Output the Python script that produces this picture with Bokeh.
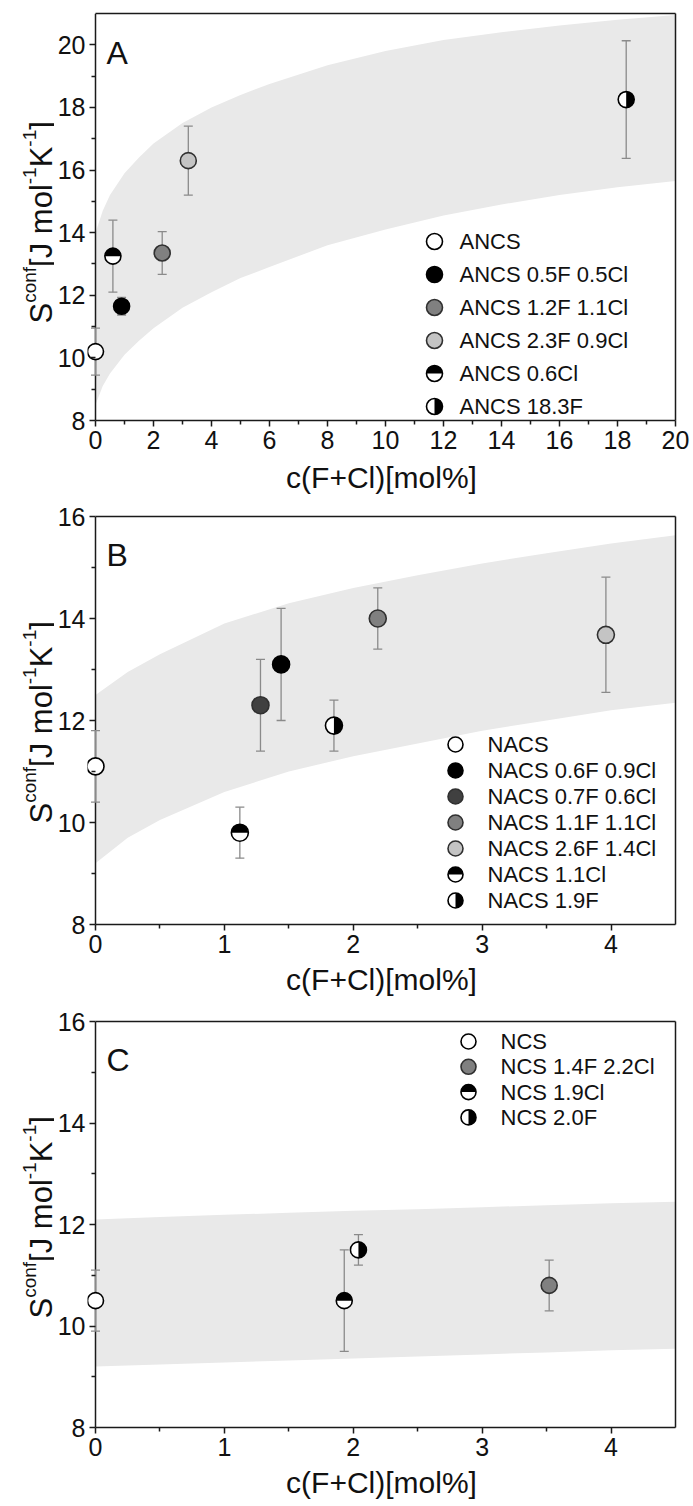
import math
from bokeh.plotting import figure
from bokeh.layouts import column, row
from bokeh.models import Label, FixedTicker, LinearAxis
from bokeh.embed import file_html
from bokeh.resources import INLINE

FONT = "Liberation Sans"

# ---------------- Panel A data ----------------
A_names = ["ANCS", "ANCS 0.5F 0.5Cl", "ANCS 1.2F 1.1Cl", "ANCS 2.3F 0.9Cl", "ANCS 0.6Cl", "ANCS 18.3F"]
A_kind = ["fill", "fill", "fill", "fill", "halfCl", "halfF"]
A_fill = ["#ffffff", "#000000", "#808080", "#c4c4c4", "", ""]
A_x = [0.0, 0.9, 2.3, 3.2, 0.6, 18.3]
A_y = [10.2, 11.65, 13.35, 16.3, 13.25, 18.25]
A_err = [0.75, 0.28, 0.68, 1.1, 1.15, 1.88]
A_band_x = [0, 0.25, 0.5, 1, 1.5, 2, 3, 4, 5, 6, 8, 10, 12, 14, 16, 18, 20]
A_band_hi = [14.0, 14.7, 15.2, 15.9, 16.4, 16.85, 17.5, 18.0, 18.4, 18.75, 19.35, 19.8, 20.15, 20.4, 20.62, 20.8, 20.95]
A_band_lo = [8.5, 9.1, 9.5, 10.1, 10.55, 10.95, 11.6, 12.1, 12.55, 12.9, 13.6, 14.1, 14.55, 14.9, 15.2, 15.45, 15.65]
A_xticks = [0, 2, 4, 6, 8, 10, 12, 14, 16, 18, 20]
A_xminor = [1, 3, 5, 7, 9, 11, 13, 15, 17, 19]
A_yticks = [8, 10, 12, 14, 16, 18, 20]
A_yminor = [9, 11, 13, 15, 17, 19]

# ---------------- Panel B data ----------------
B_names = ["NACS", "NACS 0.6F 0.9Cl", "NACS 0.7F 0.6Cl", "NACS 1.1F 1.1Cl", "NACS 2.6F 1.4Cl", "NACS 1.1Cl", "NACS 1.9F"]
B_kind = ["fill", "fill", "fill", "fill", "fill", "halfCl", "halfF"]
B_fill = ["#ffffff", "#000000", "#404040", "#808080", "#c4c4c4", "", ""]
B_x = [0.0, 1.44, 1.28, 2.19, 3.96, 1.12, 1.85]
B_y = [11.1, 13.1, 12.3, 14.0, 13.68, 9.8, 11.9]
B_err = [0.7, 1.1, 0.9, 0.6, 1.13, 0.5, 0.5]
B_band_x = [0, 0.25, 0.5, 1, 1.5, 2, 2.5, 3, 3.5, 4, 4.5]
B_band_hi = [12.5, 12.95, 13.3, 13.9, 14.3, 14.6, 14.85, 15.08, 15.28, 15.47, 15.63]
B_band_lo = [9.2, 9.7, 10.05, 10.6, 11.0, 11.3, 11.55, 11.8, 12.0, 12.2, 12.35]
B_xticks = [0, 1, 2, 3, 4]
B_xminor = [0.5, 1.5, 2.5, 3.5]
B_yticks = [8, 10, 12, 14, 16]
B_yminor = [9, 11, 13, 15]

# ---------------- Panel C data ----------------
C_names = ["NCS", "NCS 1.4F 2.2Cl", "NCS 1.9Cl", "NCS 2.0F"]
C_kind = ["fill", "fill", "halfCl", "halfF"]
C_fill = ["#ffffff", "#808080", "", ""]
C_x = [0.0, 3.52, 1.93, 2.04]
C_y = [10.5, 10.8, 10.5, 11.5]
C_err = [0.6, 0.5, 1.0, 0.3]
C_band_x = [0, 0.5, 1, 1.5, 2, 2.5, 3, 3.5, 4, 4.5]
C_band_hi = [12.1, 12.15, 12.19, 12.23, 12.27, 12.3, 12.34, 12.38, 12.42, 12.45]
C_band_lo = [9.2, 9.24, 9.28, 9.32, 9.36, 9.4, 9.44, 9.48, 9.52, 9.55]
C_xticks = [0, 1, 2, 3, 4]
C_xminor = [0.5, 1.5, 2.5, 3.5]
C_yticks = [8, 10, 12, 14, 16]
C_yminor = [9, 11, 13, 15]

X_TITLE = "c(F+Cl)[mol%]"

PLOT_W = 580      # px from x=0 to x=max
PAD = 8           # px of frame left of x=0 (so markers at x=0 are not clipped)
FRAME_W = PLOT_W + PAD
YLAB_W = 54
BAND_COLOR = "#e9e9e9"
ERR_COLOR = "#8a8a8a"
AX_COLOR = "#1a1a1a"
TXT = "#111111"


def draw_marker(p, x, y, kind, fill, size):
    if kind == "fill":
        outline = "#000000" if fill in ("#ffffff", "#000000") else "#303030"
        p.scatter([x], [y], size=size, fill_color=fill, line_color=outline, line_width=1.6)
    else:
        p.scatter([x], [y], size=size, fill_color="#ffffff", line_color=None)
        if kind == "halfCl":
            a0, a1 = 0.0, math.pi
        else:
            a0, a1 = -math.pi / 2, math.pi / 2
        p.wedge(x=[x], y=[y], radius=size / 2.0, radius_units="screen",
                start_angle=a0, end_angle=a1, fill_color="#000000", line_color=None)
        p.scatter([x], [y], size=size, fill_color=None, line_color="#000000", line_width=1.6)


def style_axis(ax):
    ax.axis_line_width = 1.5
    ax.axis_line_color = AX_COLOR
    ax.major_tick_line_width = 1.5
    ax.major_tick_line_color = AX_COLOR
    ax.minor_tick_line_width = 1.5
    ax.minor_tick_line_color = AX_COLOR
    ax.major_tick_out = 6
    ax.major_tick_in = 0
    ax.minor_tick_out = 4
    ax.minor_tick_in = 0
    ax.major_label_text_font = FONT
    ax.major_label_text_font_size = "25px"
    ax.major_label_text_color = TXT
    ax.major_label_standoff = 4


def make_panel(letter, xmax, yr, fh, top, bottom, xt, xm, yt, ym,
               bx, blo, bhi, names, kinds, fills, xs, ys, errs, msize,
               leg, ylab_y0, letter_dy, title_standoff):
    x0 = -PAD / PLOT_W * xmax
    xr = (x0, xmax)
    p = figure(x_range=xr, y_range=yr, frame_width=FRAME_W, frame_height=fh,
               min_border_left=86 - YLAB_W, min_border_right=15, min_border_top=top,
               min_border_bottom=bottom, output_backend="svg", toolbar_location=None)
    p.background_fill_color = "white"
    p.border_fill_color = "white"
    p.xgrid.visible = False
    p.ygrid.visible = False
    p.outline_line_color = None

    xa = p.xaxis[0]
    ya = p.yaxis[0]
    xa.ticker = FixedTicker(ticks=xt, minor_ticks=xm)
    ya.ticker = FixedTicker(ticks=yt, minor_ticks=ym)
    xa.bounds = (0, xmax)
    style_axis(xa)
    style_axis(ya)
    # y axis sits at the frame edge; its ticks are shifted inward so they end at x=0
    ya.axis_line_color = None
    ya.major_tick_out = -2
    ya.major_tick_in = PAD
    ya.minor_tick_out = -4
    ya.minor_tick_in = PAD
    ya.major_label_standoff = 4
    xa.axis_label = X_TITLE
    xa.axis_label_text_font = FONT
    xa.axis_label_text_font_size = "30px"
    xa.axis_label_text_font_style = "normal"
    xa.axis_label_text_color = TXT
    xa.axis_label_standoff = title_standoff

    # frame box: top and right lines
    top_ax = LinearAxis(ticker=FixedTicker(ticks=[]), bounds=(0, xmax))
    right_ax = LinearAxis(ticker=FixedTicker(ticks=[]))
    for ax in (top_ax, right_ax):
        ax.axis_line_width = 1.5
        ax.axis_line_color = AX_COLOR
        ax.major_tick_line_color = None
        ax.minor_tick_line_color = None
        ax.major_label_text_font_size = "0px"
        ax.major_label_standoff = 0
    p.add_layout(top_ax, "above")
    p.add_layout(right_ax, "right")

    # shaded band
    p.varea(x=bx, y1=blo, y2=bhi, fill_color=BAND_COLOR)

    # y axis line at x = 0
    p.segment(x0=[0], y0=[yr[0]], x1=[0], y1=[yr[1]], line_color=AX_COLOR, line_width=1.5)

    # error bars
    lo = [y - e for y, e in zip(ys, errs)]
    hi = [y + e for y, e in zip(ys, errs)]
    p.segment(x0=xs, y0=lo, x1=xs, y1=hi, line_color=ERR_COLOR, line_width=1.3)
    p.scatter(xs, hi, marker="dash", size=9, line_color=ERR_COLOR, line_width=1.3)
    p.scatter(xs, lo, marker="dash", size=9, line_color=ERR_COLOR, line_width=1.3)

    # markers
    for x, y, k, f in zip(xs, ys, kinds, fills):
        draw_marker(p, x, y, k, f, msize)

    # legend (manual, to support half-filled markers)
    fx_m, fx_t, fy0, step, lsize = leg
    for i, (nm, k, f) in enumerate(zip(names, kinds, fills)):
        fy = fy0 + step * i
        lx = xr[0] + fx_m / FRAME_W * (xr[1] - xr[0])
        ly = yr[1] - fy / fh * (yr[1] - yr[0])
        draw_marker(p, lx, ly, k, f, lsize)
        p.add_layout(Label(x=fx_t, y=fh - fy, x_units="screen", y_units="screen", text=nm,
                           text_font=FONT, text_font_size="22px", text_color=TXT,
                           text_align="left", text_baseline="middle"))

    # panel letter
    p.add_layout(Label(x=PAD + 11, y=fh - letter_dy, x_units="screen", y_units="screen", text=letter,
                       text_font=FONT, text_font_size="32px", text_color=TXT,
                       text_align="left", text_baseline="alphabetic"))

    # y title in a narrow companion figure (rotated, with superscripts)
    total_h = top + fh + bottom
    q = figure(x_range=(0, 1), y_range=(0, 1), frame_width=YLAB_W, frame_height=total_h,
               min_border_left=0, min_border_right=0, min_border_top=0, min_border_bottom=0,
               x_axis_type=None, y_axis_type=None, output_backend="svg", toolbar_location=None)
    q.xgrid.visible = False
    q.ygrid.visible = False
    q.outline_line_color = None
    q.background_fill_color = "white"
    q.border_fill_color = "white"
    main, sup = 31, 19
    pieces = [("S", main, False, 0.667), ("conf", sup, True, 1.89), ("[J mol", main, False, 2.667),
              ("-1", sup, True, 0.889), ("K", main, False, 0.667), ("-1", sup, True, 0.889),
              ("]", main, False, 0.278)]
    base_x = 41
    yy = bottom + ylab_y0
    for txt, fs, is_sup, em in pieces:
        q.add_layout(Label(x=base_x - (12 if is_sup else 0), y=yy, x_units="screen", y_units="screen",
                           text=txt, angle=math.pi / 2, text_font=FONT, text_font_size=f"{fs}px",
                           text_color=TXT, text_align="left", text_baseline="alphabetic"))
        yy += em * fs
    return row(q, p, spacing=0)


rA = make_panel("A", 20, (8, 21), 407, 13, 81, A_xticks, A_xminor, A_yticks, A_yminor,
                A_band_x, A_band_lo, A_band_hi, A_names, A_kind, A_fill, A_x, A_y, A_err, 16,
                (347, 372, 228, 33, 16), 110, 39, 9)
rB = make_panel("B", 4.5, (8, 16), 408, 15, 80, B_xticks, B_xminor, B_yticks, B_yminor,
                B_band_x, B_band_lo, B_band_hi, B_names, B_kind, B_fill, B_x, B_y, B_err, 17,
                (368, 400, 228, 26, 15), 116, 38, 7)
rC = make_panel("C", 4.5, (8, 16), 406, 17, 79, C_xticks, C_xminor, C_yticks, C_yminor,
                C_band_x, C_band_lo, C_band_hi, C_names, C_kind, C_fill, C_x, C_y, C_err, 16,
                (381, 413, 20, 25.3, 15), 126, 38, 7)

layout = column(rA, rB, rC, spacing=0)
open("out.html", "w").write(file_html(layout, INLINE))
